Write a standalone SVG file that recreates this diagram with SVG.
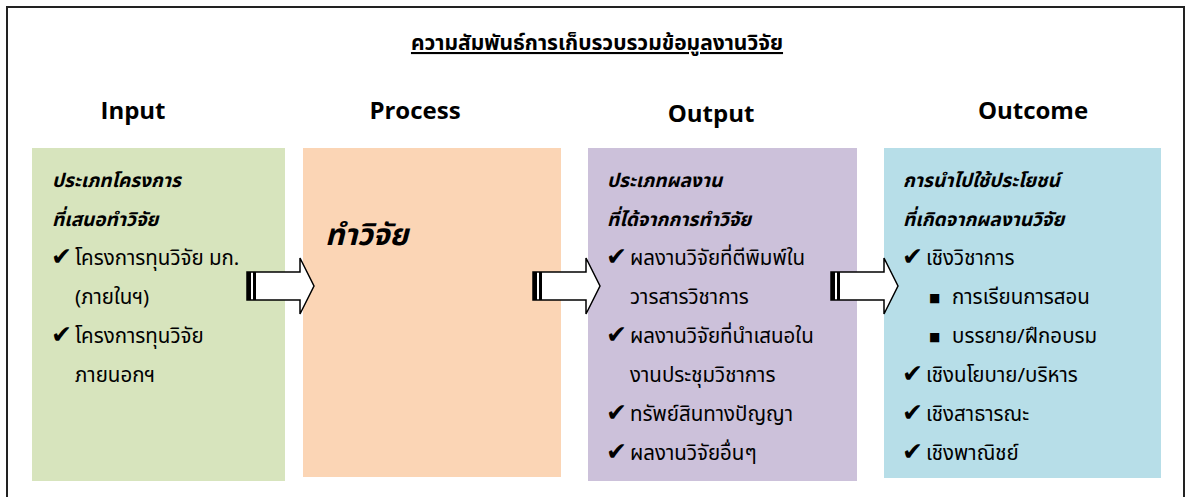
<svg xmlns="http://www.w3.org/2000/svg" width="1186" height="497" viewBox="0 0 1186 497">
<defs>
<style>
.th{font-family:"Noto Sans Thai","Noto Serif Thai","Liberation Serif",serif;font-size:20.5px;fill:#000}
.hd{font-style:italic;font-weight:bold;font-size:19px}
.big{font-size:30px}
.ck{font-family:"DejaVu Sans",sans-serif;font-size:25px;fill:#000}
.bl{font-family:"DejaVu Sans",sans-serif;font-size:12px;fill:#000}
.cap{font-family:"Open Sans","Liberation Sans",sans-serif;font-size:24px;font-weight:bold;fill:#000;text-anchor:middle}
.arr{fill:#fff;stroke:#000;stroke-width:1.5}
</style>
<g id="arrowshape">
<path d="M0,14 H53 V0 L67,28 L53,56 V42 H0 Z" class="arr"/>
<rect x="0" y="14" width="4" height="28" fill="#000"/>
<rect x="6" y="14" width="3" height="28" fill="#000"/>
</g>
</defs>
<rect width="1186" height="497" fill="#fff"/>
<path d="M7,497 V7 H1184 V497" fill="none" stroke="#222" stroke-width="2"/>
<text x="597" y="50" text-anchor="middle" font-family="Noto Sans Thai,Noto Serif Thai,Liberation Serif,serif" font-size="21" font-weight="bold" text-decoration="underline">ความสัมพันธ์การเก็บรวบรวมข้อมูลงานวิจัย</text>
<g id="input">
<text x="133" y="119" class="cap">Input</text>
<rect x="32" y="148" width="253" height="333" fill="#d7e4bd"/>
<text x="52" y="187" class="th hd">ประเภทโครงการ</text>
<text x="52" y="226" class="th hd">ที่เสนอทำวิจัย</text>
<text x="51" y="265" class="ck">✔</text><text x="75" y="265" class="th">โครงการทุนวิจัย มก.</text>
<text x="75" y="304" class="th">(ภายในฯ)</text>
<text x="51" y="343" class="ck">✔</text><text x="75" y="343" class="th">โครงการทุนวิจัย</text>
<text x="75" y="382" class="th">ภายนอกฯ</text>
</g>
<g id="process">
<text x="415" y="119" class="cap">Process</text>
<rect x="303" y="148" width="258" height="329" fill="#fbd5b5"/>
<text x="325" y="245" class="th hd big">ทำวิจัย</text>
</g>
<g id="output">
<text x="711" y="122" class="cap">Output</text>
<rect x="588" y="148" width="269" height="333" fill="#ccc1da"/>
<text x="607" y="187" class="th hd">ประเภทผลงาน</text>
<text x="607" y="226" class="th hd">ที่ได้จากการทำวิจัย</text>
<text x="606" y="265" class="ck">✔</text><text x="630" y="265" class="th">ผลงานวิจัยที่ตีพิมพ์ใน</text>
<text x="630" y="304" class="th">วารสารวิชาการ</text>
<text x="606" y="343" class="ck">✔</text><text x="630" y="343" class="th">ผลงานวิจัยที่นำเสนอใน</text>
<text x="630" y="382" class="th">งานประชุมวิชาการ</text>
<text x="606" y="421" class="ck">✔</text><text x="630" y="421" class="th">ทรัพย์สินทางปัญญา</text>
<text x="606" y="460" class="ck">✔</text><text x="630" y="460" class="th">ผลงานวิจัยอื่นๆ</text>
</g>
<g id="outcome">
<text x="1033" y="119" class="cap">Outcome</text>
<rect x="884" y="148" width="277" height="330" fill="#b7dee8"/>
<text x="903" y="187" class="th hd">การนำไปใช้ประโยชน์</text>
<text x="903" y="226" class="th hd">ที่เกิดจากผลงานวิจัย</text>
<text x="902" y="265" class="ck">✔</text><text x="926" y="265" class="th">เชิงวิชาการ</text>
<text x="929" y="302" class="bl">■</text><text x="952" y="304" class="th">การเรียนการสอน</text>
<text x="929" y="341" class="bl">■</text><text x="952" y="343" class="th">บรรยาย/ฝึกอบรม</text>
<text x="902" y="382" class="ck">✔</text><text x="926" y="382" class="th">เชิงนโยบาย/บริหาร</text>
<text x="902" y="421" class="ck">✔</text><text x="926" y="421" class="th">เชิงสาธารณะ</text>
<text x="902" y="460" class="ck">✔</text><text x="926" y="460" class="th">เชิงพาณิชย์</text>
</g>
<g id="connectors">
<use href="#arrowshape" x="247" y="258"/>
<use href="#arrowshape" x="533" y="258"/>
<use href="#arrowshape" x="831" y="258"/>
</g>
</svg>
